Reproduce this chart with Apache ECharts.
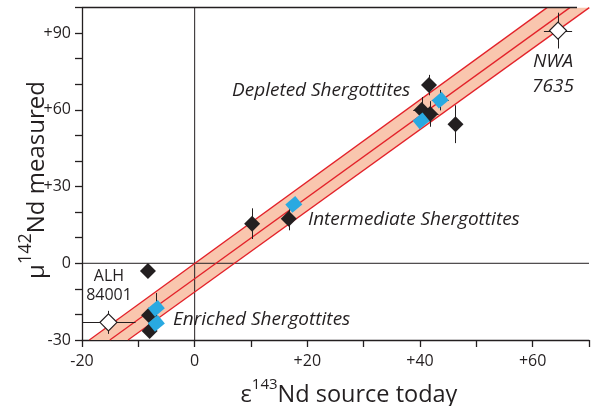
<!DOCTYPE html>
<html><head><meta charset="utf-8">
<script src="https://cdn.jsdelivr.net/npm/echarts@6/dist/echarts.min.js"></script>
<style>html,body{margin:0;padding:0;background:#fff}#c{width:592px;height:406px}</style>
</head><body><div id="c"></div>
<script>
// Tick labels
const xTickLabels = [-20, 0, 20, 40, 60];
const yTickLabels = [-30, 0, 30, 60, 90];

// Points: [x (eps143Nd), y (mu142Nd), xErr, yErr]
const blackPoints = [
  [-8.3, -3.0, 0, 0],
  [-8.1, -20.3, 0, 0],
  [-8.0, -26.5, 0, 0],
  [10.2, 15.5, 0, 6],
  [16.7, 17.4, 0, 4.5],
  [41.6, 69.7, 1.2, 4],
  [40.3, 60.0, 1.5, 5],
  [41.8, 58.4, 1.5, 5],
  [46.3, 54.4, 0, 7.4]
];
const bluePoints = [
  [-6.8, -17.6, 0, 6],
  [-6.8, -23.5, 0, 0],
  [17.6, 23.0, 0, 0],
  [43.6, 63.8, 1.5, 4],
  [40.2, 55.7, 0, 0]
];
const openPoints = [
  [-15.3, -23.1, 4.8, 4.5],
  [64.5, 91.0, 2.5, 7]
];

// Regression band (end points of the three lines)
const fitUpper = [[-18.7, -30], [62.55, 100]];
const fitCenter = [[-15.06, -30], [66.6, 100]];
const fitLower = [[-11.83, -30], [70.05, 100]];

// Zero reference lines
const zeroVertical = [[0, -30], [0, 100]];
const zeroHorizontal = [[-20, 0], [70, 0]];

const FONT = '"Open Sans", "DejaVu Sans", sans-serif';
const INK = '#231F20';

function fmt(v, list) {
  if (!list.includes(v)) return '';
  return v > 0 ? '+' + v : String(v);
}

function errRender(params, api) {
  const x = api.value(0), y = api.value(1), ex = api.value(2), ey = api.value(3);
  const st = { stroke: INK, lineWidth: 1 };
  const ch = [];
  if (ey > 0) {
    const a = api.coord([x, y - ey]), b = api.coord([x, y + ey]);
    ch.push({ type: 'line', shape: { x1: Math.round(a[0]) + 0.5, y1: a[1], x2: Math.round(b[0]) + 0.5, y2: b[1] }, style: st });
  }
  if (ex > 0) {
    const a = api.coord([x - ex, y]), b = api.coord([x + ex, y]);
    ch.push({ type: 'line', shape: { x1: a[0], y1: Math.round(a[1]) + 0.5, x2: b[0], y2: Math.round(b[1]) + 0.5 }, style: st });
  }
  return { type: 'group', children: ch };
}

function lineSeries(data, color, width, z) {
  return { type: 'line', data: data, showSymbol: false, symbol: 'none', silent: true,
    lineStyle: { color: color, width: width }, z: z, animation: false, clip: true };
}

const xTitleRich = {
  m: { fontFamily: FONT, fontSize: 23.5, fill: INK, lineHeight: 30, verticalAlign: 'bottom' },
  s: { fontFamily: FONT, fontSize: 15, fill: INK, lineHeight: 30, verticalAlign: 'top' }
};
const yTitleRich = {
  m: { fontFamily: FONT, fontSize: 24, fill: INK, lineHeight: 32, verticalAlign: 'bottom' },
  s: { fontFamily: FONT, fontSize: 18, fill: INK, lineHeight: 32, verticalAlign: 'top' }
};
const annot = 'italic 19px ' + FONT;

const chart = echarts.init(document.getElementById('c'), null, { renderer: 'canvas' });
chart.setOption({
  animation: false,
  grid: { left: 82, right: 0, top: 7.6, bottom: 66, containLabel: false },
  xAxis: {
    type: 'value', min: -20, max: 70, interval: 10,
    axisLine: { show: true, onZero: false, lineStyle: { color: INK, width: 1.3 } },
    axisTick: { show: true, inside: false, length: 7, lineStyle: { color: INK, width: 1.3 } },
    axisLabel: { margin: 13, color: INK, fontFamily: FONT, fontSize: 16, formatter: v => fmt(v, xTickLabels), showMaxLabel: true, showMinLabel: true },
    splitLine: { show: false }
  },
  yAxis: {
    type: 'value', min: -30, max: 100, interval: 10,
    axisLine: { show: true, onZero: false, lineStyle: { color: INK, width: 1.3 } },
    axisTick: { show: true, inside: false, length: 7, lineStyle: { color: INK, width: 1.3 } },
    axisLabel: { margin: 11, color: INK, fontFamily: FONT, fontSize: 16, formatter: v => fmt(v, yTickLabels), showMaxLabel: true, showMinLabel: true },
    splitLine: { show: false }
  },
  graphic: [
    { type: 'line', shape: { x1: 82, y1: 7.5, x2: 577, y2: 7.5 }, style: { stroke: INK, lineWidth: 1.3 }, z: 50 },
    { type: 'text', x: 349, y: 392, style: { text: '{m|ε}{s|143}{m|Nd source today}', align: 'center', verticalAlign: 'middle', rich: xTitleRich } },
    { type: 'text', x: 33, y: 180, rotation: Math.PI / 2, style: { text: '{m|μ}{s|142}{m|Nd measured}', align: 'center', verticalAlign: 'middle', rich: yTitleRich } },
    { type: 'text', x: 232, y: 91, style: { text: 'Depleted Shergottites', font: annot, fill: INK, align: 'left', verticalAlign: 'middle' }, z: 60 },
    { type: 'text', x: 308, y: 220, style: { text: 'Intermediate Shergottites', font: annot, fill: INK, align: 'left', verticalAlign: 'middle' }, z: 60 },
    { type: 'text', x: 173, y: 320, style: { text: 'Enriched Shergottites', font: annot, fill: INK, align: 'left', verticalAlign: 'middle' }, z: 60 },
    { type: 'text', x: 553, y: 62, style: { text: 'NWA', font: annot, fill: INK, align: 'center', verticalAlign: 'middle' }, z: 60 },
    { type: 'text', x: 553, y: 87, style: { text: '7635', font: annot, fill: INK, align: 'center', verticalAlign: 'middle' }, z: 60 },
    { type: 'text', x: 109, y: 276, style: { text: 'ALH', font: '16px ' + FONT, fill: INK, align: 'center', verticalAlign: 'middle' }, z: 60 },
    { type: 'text', x: 109, y: 295, style: { text: '84001', font: '16px ' + FONT, fill: INK, align: 'center', verticalAlign: 'middle' }, z: 60 }
  ],
  series: [
    { type: 'custom', silent: true, clip: true, z: 1, data: [[0, 0]],
      renderItem: (p, api) => ({ type: 'polygon',
        shape: { points: [api.coord(fitUpper[0]), api.coord(fitUpper[1]), api.coord(fitLower[1]), api.coord(fitLower[0])] },
        style: { fill: '#F9C6AE' } }) },
    lineSeries(zeroVertical, INK, 1, 2),
    lineSeries(zeroHorizontal, INK, 1, 2),
    lineSeries(fitUpper, '#E3222A', 1.3, 3),
    lineSeries(fitCenter, '#E3222A', 1.3, 3),
    lineSeries(fitLower, '#E3222A', 1.3, 3),
    { type: 'custom', silent: true, clip: true, z: 4, data: blackPoints.concat(bluePoints, openPoints), renderItem: errRender },
    { type: 'scatter', silent: true, z: 5, data: blackPoints.map(p => [p[0], p[1]]), symbol: 'diamond', symbolSize: 16,
      itemStyle: { color: INK, opacity: 1 } },
    { type: 'scatter', silent: true, z: 6, data: bluePoints.map(p => [p[0], p[1]]), symbol: 'rect', symbolSize: [13, 11], symbolRotate: 40,
      itemStyle: { color: '#29A9E1', opacity: 1 } },
    { type: 'scatter', silent: true, z: 6, data: openPoints.map(p => [p[0], p[1]]), symbol: 'diamond', symbolSize: 17,
      itemStyle: { color: '#ffffff', borderColor: INK, borderWidth: 1.2, opacity: 1 } }
  ]
});
</script></body></html>
